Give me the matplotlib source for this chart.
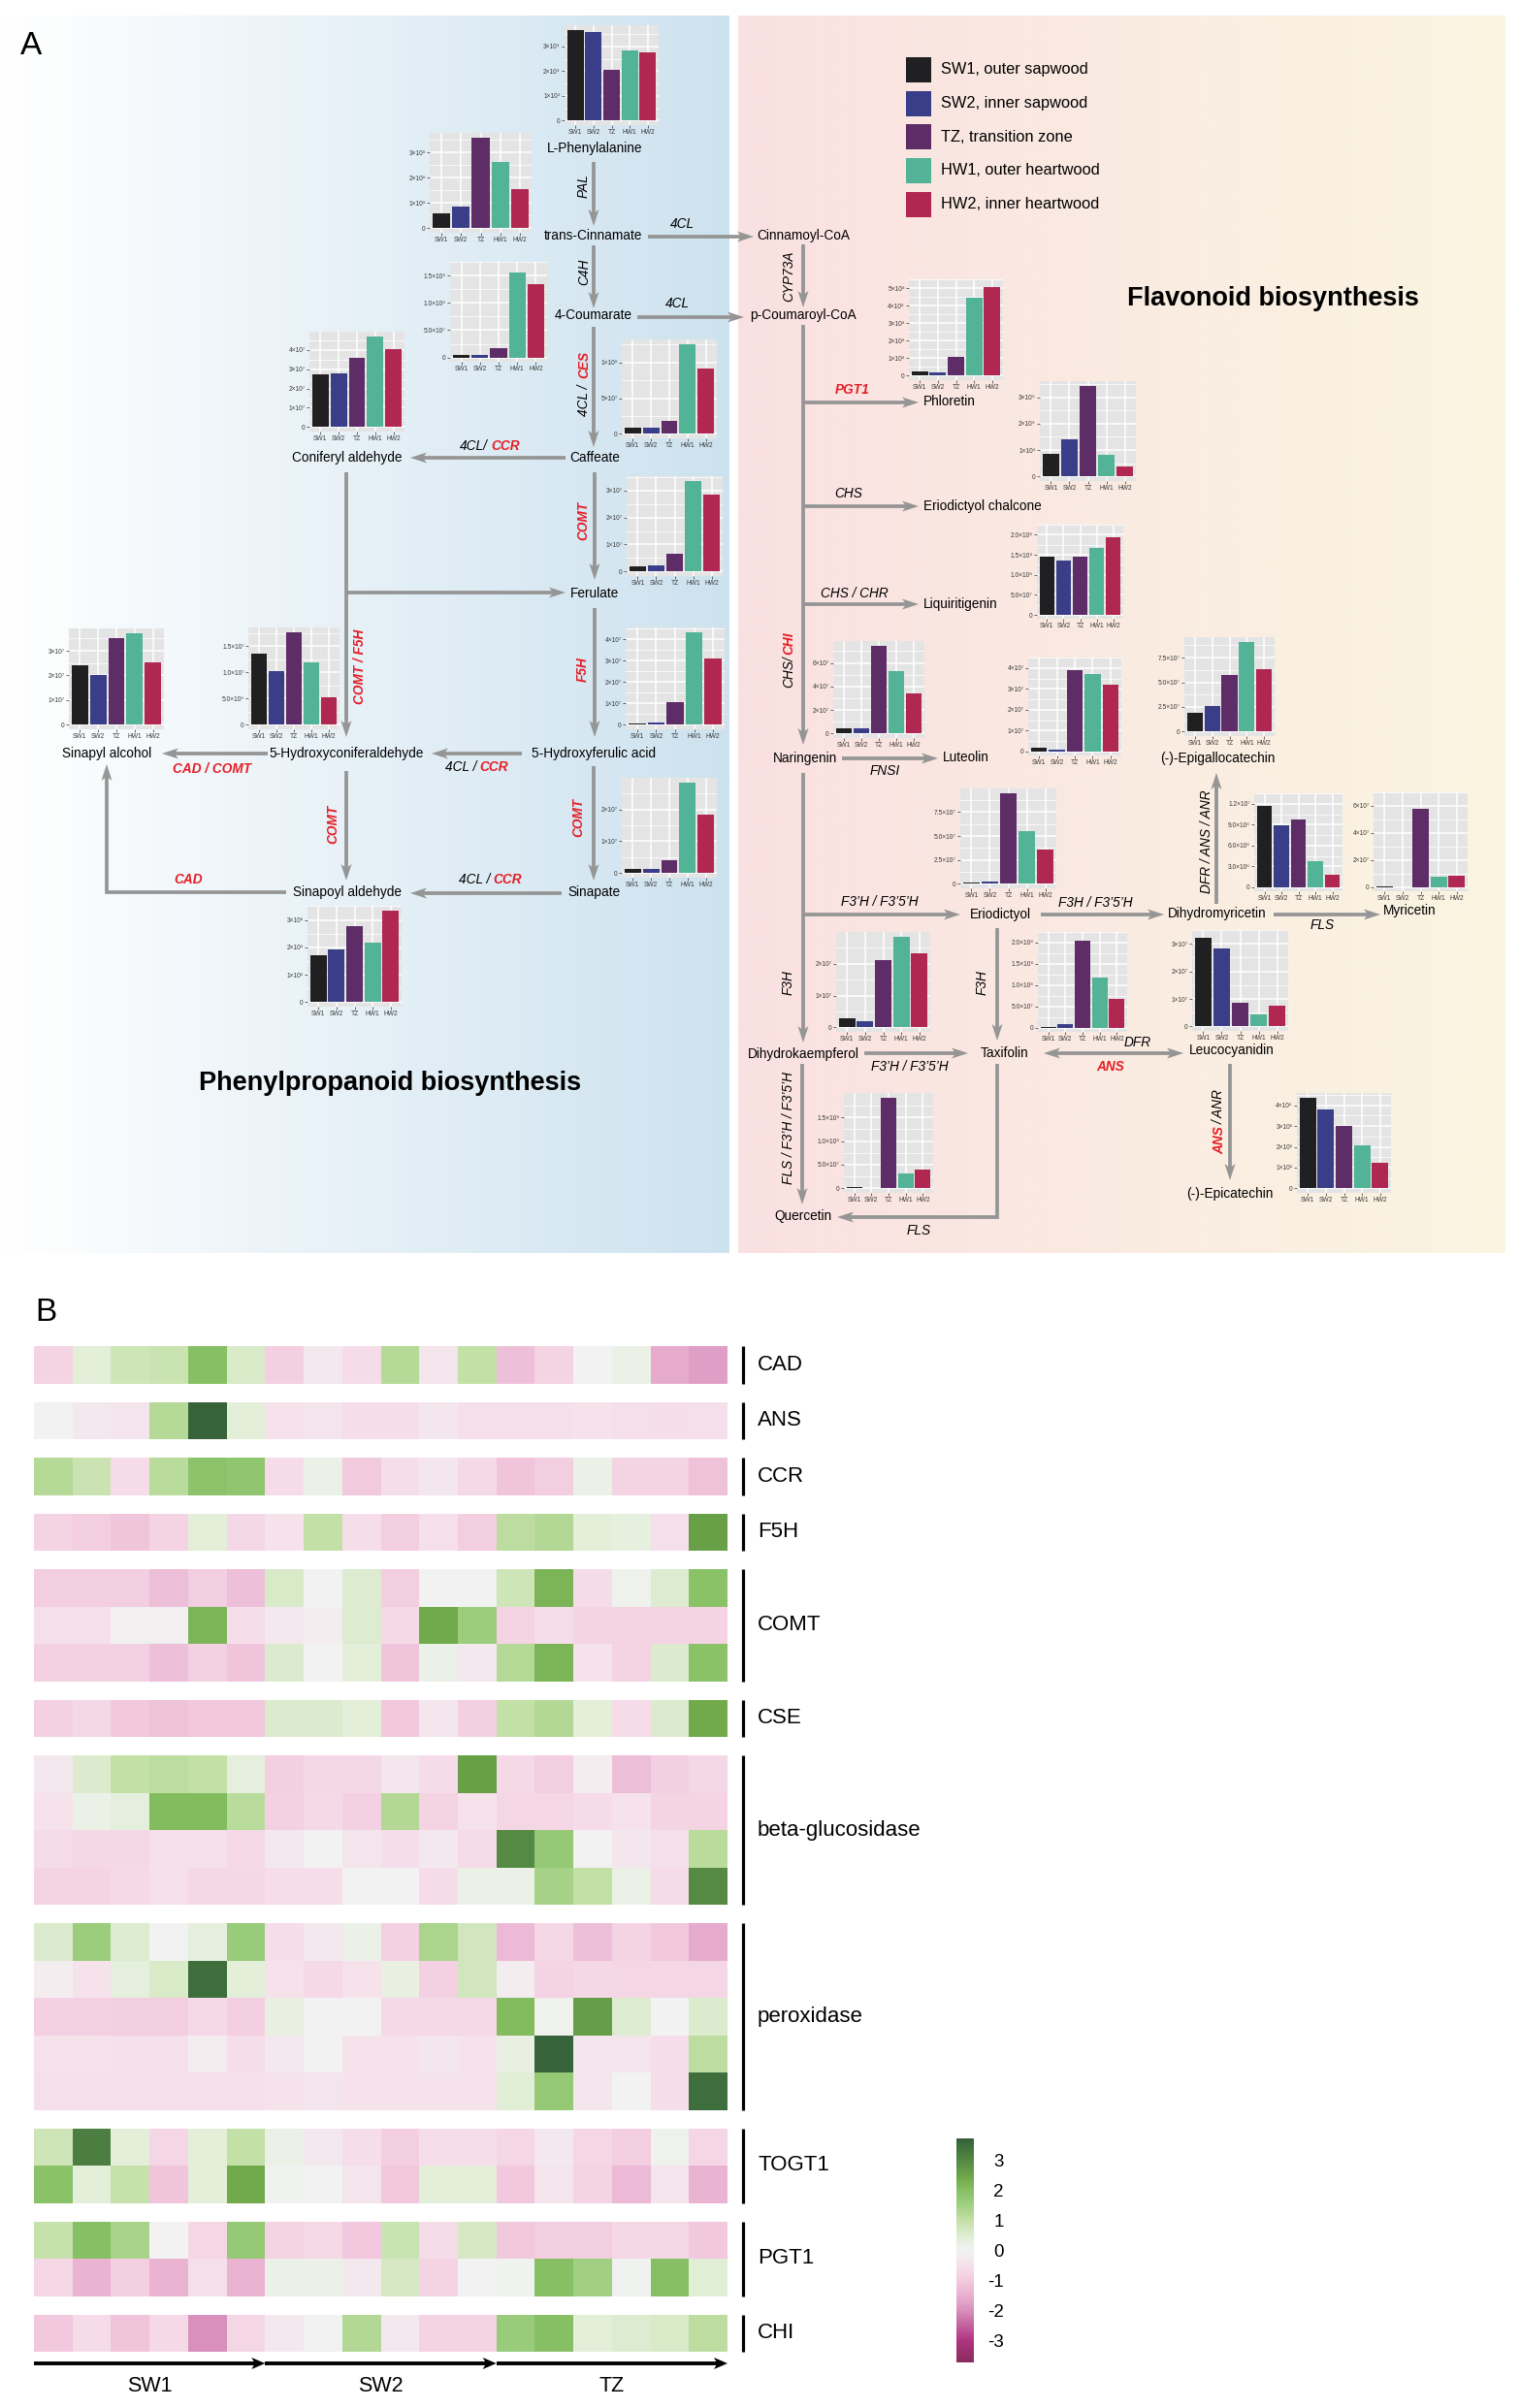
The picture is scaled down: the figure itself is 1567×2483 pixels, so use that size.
import numpy as np
import matplotlib
matplotlib.use('Agg')
import matplotlib.pyplot as plt
from matplotlib.colors import LinearSegmentedColormap, Normalize, to_rgb
from matplotlib.patches import Rectangle, Polygon
import matplotlib.colorbar as mcolorbar

W, H, DPI = 1567, 2483, 100
plt.rcParams['font.family'] = ['Liberation Sans', 'DejaVu Sans']

# ------------------------------------------------------------------ data
groups = ['SW1', 'SW2', 'TZ', 'HW1', 'HW2']
group_labels = ['SW1, outer sapwood', 'SW2, inner sapwood', 'TZ, transition zone',
                'HW1, outer heartwood', 'HW2, inner heartwood']
group_colors = ['#201F22', '#3A3E88', '#5E2C67', '#52B396', '#B02852']

compounds = ['L-Phenylalanine', 'trans-Cinnamate', '4-Coumarate', 'Coniferyl aldehyde',
             'Caffeate', 'Ferulate', '5-Hydroxyferulic acid', 'Sinapate', 'Sinapoyl aldehyde',
             'Sinapyl alcohol', '5-Hydroxyconiferaldehyde', 'Phloretin', 'Eriodictyol chalcone',
             'Liquiritigenin', 'Naringenin', 'Luteolin', '(-)-Epigallocatechin', 'Eriodictyol',
             'Dihydromyricetin', 'Myricetin', 'Dihydrokaempferol', 'Taxifolin', 'Leucocyanidin',
             '(-)-Epicatechin', 'Quercetin']

compound_values = [
    [3.68e9, 3.60e9, 2.07e9, 2.86e9, 2.78e9],
    [0.59e8, 0.86e8, 3.59e8, 2.63e8, 1.55e8],
    [0.055e8, 0.055e8, 0.17e8, 1.555e8, 1.346e8],
    [2.72e7, 2.77e7, 3.57e7, 4.72e7, 4.07e7],
    [0.08e8, 0.08e8, 0.18e8, 1.26e8, 0.91e8],
    [0.18e7, 0.23e7, 0.64e7, 3.36e7, 2.86e7],
    [0.06e7, 0.12e7, 1.04e7, 4.34e7, 3.08e7],
    [0.13e7, 0.13e7, 0.42e7, 2.85e7, 1.85e7],
    [1.70e6, 1.92e6, 2.77e6, 2.17e6, 3.35e6],
    [2.41e7, 2.01e7, 3.52e7, 3.72e7, 2.53e7],
    [1.35e7, 1.02e7, 1.77e7, 1.19e7, 0.52e7],
    [0.25e8, 0.18e8, 1.06e8, 4.45e8, 5.03e8],
    [0.86e9, 1.41e9, 3.44e9, 0.81e9, 0.37e9],
    [1.46e8, 1.35e8, 1.46e8, 1.66e8, 1.93e8],
    [0.41e7, 0.41e7, 7.48e7, 5.34e7, 3.45e7],
    [0.16e7, 0.10e7, 3.91e7, 3.70e7, 3.19e7],
    [1.88e7, 2.56e7, 5.78e7, 9.12e7, 6.36e7],
    [0.10e7, 0.20e7, 9.50e7, 5.50e7, 3.60e7],
    [11.75e6, 8.94e6, 9.70e6, 3.70e6, 1.79e6],
    [0.08e7, 0.03e7, 5.80e7, 0.76e7, 0.82e7],
    [0.29e7, 0.19e7, 2.12e7, 2.86e7, 2.34e7],
    [0.01e8, 0.08e8, 2.05e8, 1.18e8, 0.68e8],
    [3.23e7, 2.82e7, 0.85e7, 0.45e7, 0.75e7],
    [4.38e6, 3.81e6, 3.00e6, 2.08e6, 1.23e6],
    [0.02e8, 0.01e8, 1.92e8, 0.32e8, 0.39e8],
]

compound_ticks = [
    [0, 1e9, 2e9, 3e9],
    [0, 1e8, 2e8, 3e8],
    [0, 0.5e8, 1.0e8, 1.5e8],
    [0, 1e7, 2e7, 3e7, 4e7],
    [0, 0.5e8, 1e8],
    [0, 1e7, 2e7, 3e7],
    [0, 1e7, 2e7, 3e7, 4e7],
    [0, 1e7, 2e7],
    [0, 1e6, 2e6, 3e6],
    [0, 1e7, 2e7, 3e7],
    [0, 0.5e7, 1.0e7, 1.5e7],
    [0, 1e8, 2e8, 3e8, 4e8, 5e8],
    [0, 1e9, 2e9, 3e9],
    [0, 0.5e8, 1.0e8, 1.5e8, 2.0e8],
    [0, 2e7, 4e7, 6e7],
    [0, 1e7, 2e7, 3e7, 4e7],
    [0, 2.5e7, 5.0e7, 7.5e7],
    [0, 2.5e7, 5.0e7, 7.5e7],
    [0, 3e6, 6e6, 9e6, 12e6],
    [0, 2e7, 4e7, 6e7],
    [0, 1e7, 2e7],
    [0, 0.5e8, 1.0e8, 1.5e8, 2.0e8],
    [0, 1e7, 2e7, 3e7],
    [0, 1e6, 2e6, 3e6, 4e6],
    [0, 0.5e8, 1.0e8, 1.5e8],
]

compound_ticklabels = [
    ['0', '1×10⁹', '2×10⁹', '3×10⁹'],
    ['0', '1×10⁸', '2×10⁸', '3×10⁸'],
    ['0', '5.0×10⁷', '1.0×10⁸', '1.5×10⁸'],
    ['0', '1×10⁷', '2×10⁷', '3×10⁷', '4×10⁷'],
    ['0', '5×10⁷', '1×10⁸'],
    ['0', '1×10⁷', '2×10⁷', '3×10⁷'],
    ['0', '1×10⁷', '2×10⁷', '3×10⁷', '4×10⁷'],
    ['0', '1×10⁷', '2×10⁷'],
    ['0', '1×10⁶', '2×10⁶', '3×10⁶'],
    ['0', '1×10⁷', '2×10⁷', '3×10⁷'],
    ['0', '5.0×10⁶', '1.0×10⁷', '1.5×10⁷'],
    ['0', '1×10⁸', '2×10⁸', '3×10⁸', '4×10⁸', '5×10⁸'],
    ['0', '1×10⁹', '2×10⁹', '3×10⁹'],
    ['0', '5.0×10⁷', '1.0×10⁸', '1.5×10⁸', '2.0×10⁸'],
    ['0', '2×10⁷', '4×10⁷', '6×10⁷'],
    ['0', '1×10⁷', '2×10⁷', '3×10⁷', '4×10⁷'],
    ['0', '2.5×10⁷', '5.0×10⁷', '7.5×10⁷'],
    ['0', '2.5×10⁷', '5.0×10⁷', '7.5×10⁷'],
    ['0', '3.0×10⁶', '6.0×10⁶', '9.0×10⁶', '1.2×10⁷'],
    ['0', '2×10⁷', '4×10⁷', '6×10⁷'],
    ['0', '1×10⁷', '2×10⁷'],
    ['0', '5.0×10⁷', '1.0×10⁸', '1.5×10⁸', '2.0×10⁸'],
    ['0', '1×10⁷', '2×10⁷', '3×10⁷'],
    ['0', '1×10⁶', '2×10⁶', '3×10⁶', '4×10⁶'],
    ['0', '5.0×10⁷', '1.0×10⁸', '1.5×10⁸'],
]

# heatmap (z-scores), 18 columns: SW1 x6, SW2 x6, TZ x6
stages = ['SW1', 'SW2', 'TZ']
CAD_rows = [[-0.8, 0.4, 0.8, 0.9, 2.0, 0.6, -0.9, -0.3, -0.6, 1.2, -0.4, 1.0, -1.2, -0.8, 0.0, 0.2, -1.6, -1.8]]
ANS_rows = [[0.0, -0.3, -0.4, 1.2, 3.7, 0.4, -0.45, -0.4, -0.55, -0.55, -0.35, -0.5, -0.5, -0.5, -0.45, -0.5, -0.55, -0.5]]
CCR_rows = [[1.2, 0.85, -0.6, 1.15, 1.9, 1.8, -0.6, 0.2, -1.0, -0.55, -0.35, -0.65, -1.1, -0.95, 0.2, -0.8, -0.8, -1.15]]
F5H_rows = [[-0.8, -0.95, -1.1, -0.8, 0.4, -0.7, -0.45, 1.0, -0.55, -0.95, -0.5, -0.95, 1.1, 1.25, 0.4, 0.3, -0.5, 2.6]]
COMT_rows = [
    [-0.95, -0.95, -0.95, -1.25, -0.95, -1.2, 0.6, 0.0, 0.5, -0.95, 0.0, 0.0, 0.8, 2.2, -0.6, 0.1, 0.5, 1.95],
    [-0.5, -0.5, -0.1, -0.1, 2.2, -0.55, -0.3, -0.15, 0.5, -0.65, 2.4, 1.6, -0.8, -0.55, -0.8, -0.8, -0.8, -0.8],
    [-0.85, -0.85, -0.85, -1.2, -0.85, -1.1, 0.55, 0.0, 0.4, -1.1, 0.2, -0.3, 1.2, 2.2, -0.45, -0.8, 0.55, 1.95],
]
CSE_rows = [[-0.85, -0.7, -1.05, -1.15, -1.05, -1.05, 0.55, 0.55, 0.4, -1.05, -0.35, -0.9, 1.0, 1.25, 0.4, -0.6, 0.55, 2.4]]
BGLU_rows = [
    [-0.3, 0.55, 1.0, 1.1, 1.0, 0.35, -0.9, -0.7, -0.7, -0.35, -0.6, 2.6, -0.65, -0.95, -0.15, -1.25, -0.9, -0.7],
    [-0.45, 0.15, 0.35, 2.1, 2.1, 1.15, -0.85, -0.65, -0.85, 1.25, -0.8, -0.45, -0.75, -0.75, -0.6, -0.45, -0.8, -0.8],
    [-0.6, -0.7, -0.7, -0.5, -0.5, -0.65, -0.3, 0.0, -0.4, -0.55, -0.3, -0.6, 3.0, 1.7, 0.0, -0.35, -0.5, 1.15],
    [-0.8, -0.8, -0.65, -0.5, -0.7, -0.7, -0.55, -0.55, 0.0, 0.0, -0.6, 0.2, 0.2, 1.45, 1.0, 0.2, -0.6, 3.0],
]
POX_rows = [
    [0.55, 1.6, 0.5, 0.0, 0.35, 1.65, -0.55, -0.3, 0.15, -0.85, 1.35, 0.75, -1.3, -0.7, -1.2, -0.8, -1.05, -1.6],
    [-0.15, -0.45, 0.35, 0.6, 3.5, 0.4, -0.45, -0.65, -0.45, 0.25, -0.85, 0.75, -0.15, -0.8, -0.7, -0.75, -0.75, -0.75],
    [-0.85, -0.85, -0.95, -0.95, -0.65, -0.95, 0.25, 0.0, 0.0, -0.65, -0.65, -0.65, 2.1, 0.1, 2.65, 0.5, 0.0, 0.55],
    [-0.45, -0.45, -0.5, -0.5, -0.15, -0.55, -0.3, 0.0, -0.45, -0.45, -0.35, -0.45, 0.25, 3.7, -0.35, -0.4, -0.55, 1.1],
    [-0.5, -0.5, -0.5, -0.5, -0.5, -0.5, -0.45, -0.4, -0.45, -0.45, -0.45, -0.45, 0.45, 1.7, -0.35, 0.0, -0.55, 3.5],
]
TOGT1_rows = [
    [0.8, 3.2, 0.4, -0.75, 0.4, 1.0, 0.2, -0.3, -0.55, -0.9, -0.55, -0.55, -0.75, -0.3, -0.75, -0.95, 0.1, -0.75],
    [1.95, 0.4, 0.95, -1.1, 0.4, 2.4, 0.05, 0.0, -0.4, -1.05, 0.4, 0.4, -1.05, -0.4, -0.8, -1.3, -0.4, -1.45],
]
PGT1_rows = [
    [0.95, 2.0, 1.4, 0.0, -0.75, 1.7, -0.8, -0.65, -1.05, 0.9, -0.6, 0.65, -1.05, -0.95, -0.95, -0.7, -0.7, -1.05],
    [-0.75, -1.45, -0.9, -1.45, -0.5, -1.45, 0.15, 0.15, -0.3, 0.65, -0.8, 0.0, 0.05, 2.0, 1.5, 0.05, 2.0, 0.45],
]
CHI_rows = [[-1.05, -0.6, -1.1, -0.65, -2.0, -0.75, -0.3, 0.0, 1.25, -0.3, -0.8, -0.8, 1.65, 2.0, 0.4, 0.5, 0.6, 1.1]]

hm_genes = ['CAD', 'ANS', 'CCR', 'F5H', 'COMT', 'CSE', 'beta-glucosidase', 'peroxidase',
            'TOGT1', 'PGT1', 'CHI']
hm_blocks = [CAD_rows, ANS_rows, CCR_rows, F5H_rows, COMT_rows, CSE_rows, BGLU_rows,
             POX_rows, TOGT1_rows, PGT1_rows, CHI_rows]
cbar_ticks = [-3, -2, -1, 0, 1, 2, 3]

# ------------------------------------------------------------------ layout / style
GRAY = '#959595'
RED = '#E41E26'
LW = 2.7
FS = 9.8

fig = plt.figure(figsize=(W / DPI, H / DPI), dpi=DPI)
ax0 = fig.add_axes([0, 0, 1, 1])


def hgrad(x0, x1, y0, y1, c0, c1):
    a = np.array(to_rgb(c0)); b = np.array(to_rgb(c1))
    t = np.linspace(0, 1, 256)[:, None]
    img = (a[None, :] * (1 - t) + b[None, :] * t)[None, :, :]
    ax0.imshow(img, extent=(x0, x1, y1, y0), aspect='auto', interpolation='bilinear', zorder=0)


hgrad(0, 752, 16, 1292, '#FFFFFF', '#CDE2EF')
hgrad(761, 1552, 16, 1292, '#FAE1E1', '#FAF5E1')
ax0.set_xlim(0, W)
ax0.set_ylim(H, 0)
ax0.axis('off')


def head(tip, d, L=17.0, hw=5.5, color=GRAY):
    d = np.asarray(d, float); d = d / np.hypot(*d)
    n = np.array([-d[1], d[0]])
    tip = np.asarray(tip, float)
    back = tip - L * d
    notch = tip - 0.75 * L * d
    ax0.add_patch(Polygon([tip, back + hw * n, notch, back - hw * n], closed=True,
                          fc=color, ec='none', zorder=3))


def arrow(pts, both=False, L=17.0, hw=5.5, color=GRAY, lw=LW):
    pts = np.array(pts, float)
    line = pts.copy()
    d = pts[-1] - pts[-2]; d = d / np.hypot(*d)
    line[-1] = pts[-1] - 0.7 * L * d
    if both:
        d0 = pts[0] - pts[1]; d0 = d0 / np.hypot(*d0)
        line[0] = pts[0] - 0.7 * L * d0
        head(pts[0], d0, L, hw, color)
    ax0.plot(line[:, 0], line[:, 1], color=color, lw=lw, solid_capstyle='butt',
             solid_joinstyle='miter', zorder=2)
    head(pts[-1], d, L, hw, color)


def node(x, y, s, ha='center'):
    ax0.text(x, y, s, ha=ha, va='center', fontsize=FS, zorder=4)


def enz(x, y, s, red=False, rot=0, ha='center'):
    ax0.text(x, y, s, ha=ha, va='center', fontsize=FS, style='italic',
             weight='bold' if red else 'normal', color=RED if red else 'black',
             rotation=rot, zorder=4)


# ---- arrows: phenylpropanoid
arrow([(612, 167), (612, 233)])
arrow([(668, 244), (777, 244)])
arrow([(612, 253), (612, 318)])
arrow([(657, 327), (767, 327)])
arrow([(828, 252), (828, 317)])
arrow([(612, 337), (612, 461)])
arrow([(583, 472), (423, 472)])
arrow([(613, 487), (613, 598)])
arrow([(357, 611), (583, 611)])
arrow([(357, 487), (357, 760)])
arrow([(613, 627), (613, 760)])
arrow([(538, 777), (445, 777)])
arrow([(276, 777), (167, 777)])
arrow([(357, 795), (357, 908)])
arrow([(612, 790), (612, 908)])
arrow([(579, 921), (423, 921)])
arrow([(295, 920), (110, 920), (110, 788)])
# ---- arrows: flavonoid
arrow([(828, 335), (828, 768)])
arrow([(828, 415), (947, 415)])
arrow([(828, 522), (947, 522)])
arrow([(828, 623), (947, 623)])
arrow([(868, 782), (967, 782)])
arrow([(828, 797), (828, 1075)])
arrow([(828, 943), (990, 943)])
arrow([(891, 1086), (998, 1086)])
arrow([(1028, 957), (1028, 1073)])
arrow([(827, 1097), (827, 1242)])
arrow([(1028, 1097), (1028, 1255), (863, 1255)])
arrow([(1073, 943), (1200, 943)])
arrow([(1313, 943), (1423, 943)])
arrow([(1254, 932), (1254, 797)])
arrow([(1076, 1086), (1220, 1086)], both=True)
arrow([(1268, 1097), (1268, 1217)])

# ---- node labels
node(613, 153, 'L-Phenylalanine')
node(612, 243, 'trans-Cinnamate')
node(828, 243, 'Cinnamoyl-CoA')
node(612, 325, '4-Coumarate')
node(828, 325, 'p-Coumaroyl-CoA')
node(952, 414, 'Phloretin', ha='left')
node(952, 522, 'Eriodictyol chalcone', ha='left')
node(952, 623, 'Liquiritigenin', ha='left')
node(613, 472, 'Caffeate')
node(358, 472, 'Coniferyl aldehyde')
node(613, 612, 'Ferulate')
node(612, 777, '5-Hydroxyferulic acid')
node(357, 777, '5-Hydroxyconiferaldehyde')
node(110, 777, 'Sinapyl alcohol')
node(358, 920, 'Sinapoyl aldehyde')
node(613, 920, 'Sinapate')
node(830, 782, 'Naringenin')
node(972, 781, 'Luteolin', ha='left')
node(1031, 943, 'Eriodictyol')
node(828, 1087, 'Dihydrokaempferol')
node(1036, 1086, 'Taxifolin')
node(828, 1254, 'Quercetin')
node(1255, 942, 'Dihydromyricetin')
node(1453, 939, 'Myricetin')
node(1255, 782, '(-)-Epigallocatechin')
node(1270, 1083, 'Leucocyanidin')
node(1268, 1231, '(-)-Epicatechin')

# ---- enzyme labels
enz(602, 192, 'PAL', rot=90)
enz(703, 231, '4CL')
enz(602, 280, 'C4H', rot=90)
enz(698, 313, '4CL')
enz(813, 285, 'CYP73A', rot=90)
enz(602, 413, '4CL /', rot=90)
enz(602, 376, 'CES', red=True, rot=90)
enz(503, 460, '4CL/', ha='right')
enz(506, 460, 'CCR', red=True, ha='left')
enz(601, 537, 'COMT', red=True, rot=90)
enz(371, 687, 'COMT / F5H', red=True, rot=90)
enz(601, 690, 'F5H', red=True, rot=90)
enz(491, 791, '4CL /', ha='right')
enz(494, 791, 'CCR', red=True, ha='left')
enz(219, 793, 'CAD / COMT', red=True)
enz(343, 850, 'COMT', red=True, rot=90)
enz(596, 843, 'COMT', red=True, rot=90)
enz(505, 907, '4CL /', ha='right')
enz(508, 907, 'CCR', red=True, ha='left')
enz(194, 907, 'CAD', red=True)
enz(879, 402, 'PGT1', red=True)
enz(875, 509, 'CHS')
enz(881, 612, 'CHS / CHR')
enz(813, 693, 'CHS/', rot=90)
enz(813, 663, 'CHI', red=True, rot=90)
enz(912, 795, 'FNSI')
enz(813, 1013, 'F3H', rot=90)
enz(907, 930, 'F3’H / F3’5’H')
enz(938, 1100, 'F3’H / F3’5’H')
enz(1013, 1013, 'F3H', rot=90)
enz(813, 1163, 'FLS / F3’H / F3’5’H', rot=90)
enz(947, 1269, 'FLS')
enz(1129, 931, 'F3H / F3’5’H')
enz(1363, 954, 'FLS')
enz(1244, 868, 'DFR / ANS / ANR', rot=90)
enz(1173, 1075, 'DFR')
enz(1145, 1100, 'ANS', red=True)
enz(1257, 1176, 'ANS', red=True, rot=90)
enz(1257, 1141, '/ ANR', rot=90)

# ---- titles & panel letters
ax0.text(402, 1117, 'Phenylpropanoid biosynthesis', fontsize=19.5, weight='bold',
         ha='center', va='center')
ax0.text(1312, 308, 'Flavonoid biosynthesis', fontsize=19.5, weight='bold',
         ha='center', va='center')
ax0.text(32, 47, 'A', fontsize=24, ha='center', va='center')
ax0.text(47, 1353, 'B', fontsize=24, ha='center', va='center')

# ---- legend
leg_y = [71.5, 106.5, 141, 175.5, 210.5]
for yy, lab, col in zip(leg_y, group_labels, group_colors):
    ax0.add_patch(Rectangle((934, yy - 13), 26, 26, fc=col, ec='none', zorder=3))
    ax0.text(970, yy, lab, fontsize=11.8, ha='left', va='center')

# ---- mini bar charts (gray panel rect in pixels: x0, y0, x1, y1)
chart_rects = [
    (582, 26, 679, 129), (443, 137, 548, 240), (464, 270, 564, 373), (319, 342, 417, 445),
    (641, 350, 739, 452), (646, 491, 745, 594), (645, 647, 747, 752), (641, 802, 739, 905),
    (317, 934, 414, 1038), (71, 648, 169, 752), (256, 647, 350, 752), (937, 288, 1034, 392),
    (1072, 393, 1171, 496), (1069, 541, 1158, 638), (859, 661, 953, 761), (1060, 678, 1156, 779),
    (1221, 657, 1314, 759), (990, 813, 1089, 916), (1293, 818, 1384, 919), (1416, 817, 1513, 919),
    (862, 961, 959, 1064), (1070, 961, 1162, 1064), (1229, 959, 1328, 1063),
    (1337, 1127, 1434, 1230), (870, 1127, 962, 1230),
]


def mini(rect, vals, ticks, labels):
    x0, y0, x1, y1 = rect
    ax = fig.add_axes([x0 / W, 1 - y1 / H, (x1 - x0) / W, (y1 - y0) / H])
    ax.set_facecolor('#E4E4E4')
    xs = np.arange(1, 6)
    ax.bar(xs, vals, width=0.9, color=group_colors, zorder=3)
    ymax = max(vals)
    ax.set_xlim(0.4, 5.6)
    ax.set_ylim(-0.05 * ymax, 1.05 * ymax)
    ax.set_xticks(xs)
    ax.set_xticklabels(groups)
    ax.set_yticks(ticks)
    ax.set_yticklabels(labels)
    step = ticks[1] - ticks[0]
    ax.set_yticks([t + step / 2 for t in ticks], minor=True)
    ax.tick_params(which='minor', length=0, labelleft=False)
    ax.tick_params(which='major', length=2, width=0.5, color='#333333', labelsize=4.8,
                   labelcolor='#3A3A3A', pad=1)
    ax.set_axisbelow(True)
    ax.grid(which='major', color='white', lw=1.1)
    ax.grid(which='minor', axis='y', color='white', lw=0.55)
    for s in ax.spines.values():
        s.set_visible(False)


for rect, vals, tk, tl in zip(chart_rects, compound_values, compound_ticks, compound_ticklabels):
    mini(rect, vals, tk, tl)

# ------------------------------------------------------------------ heatmap (panel B)
cmap_nodes = [(-3.74, '#8B2B5F'), (-3.0, '#B03582'), (-2.0, '#D991BE'), (-1.6, '#E6ABCC'),
              (-1.2, '#EEC0D9'), (-0.95, '#F3CDE0'), (-0.6, '#F6DCE8'), (-0.3, '#F3E8EE'),
              (0.0, '#F2F2F2'), (0.4, '#E3EFD9'), (1.0, '#C4E0A8'), (1.25, '#B3D895'),
              (1.6, '#9BCD7D'), (2.0, '#88C065'), (2.4, '#72AB4B'), (3.0, '#548A43'),
              (3.74, '#35613A')]
vmin, vmax = -3.74, 3.74
cmap = LinearSegmentedColormap.from_list(
    'pg', [((v - vmin) / (vmax - vmin), c) for v, c in cmap_nodes])
norm = Normalize(vmin, vmax)

hx0, hx1 = 35, 750
xedges = np.linspace(hx0, hx1, 19)
row_h, gap = 38.5, 19.0
ytop = 1388.0
for gene, rows in zip(hm_genes, hm_blocks):
    nrow = len(rows)
    yedges = ytop + row_h * np.arange(nrow + 1)
    ax0.pcolormesh(xedges, yedges, np.array(rows), cmap=cmap, norm=norm,
                   shading='flat', edgecolors='none', antialiased=False, zorder=2)
    ax0.plot([766, 766], [ytop, yedges[-1]], color='black', lw=2.3, solid_capstyle='butt')
    ax0.text(781, (ytop + yedges[-1]) / 2, gene, fontsize=16, ha='left', va='center')
    ytop = yedges[-1] + gap

# stage arrows under heatmap
seg = np.linspace(hx0, hx1, 4)
for i, st in enumerate(stages):
    arrow([(seg[i], 2437), (seg[i + 1], 2437)], L=14, hw=6, color='black', lw=2.8)
    ax0.text((seg[i] + seg[i + 1]) / 2, 2461, st, fontsize=15.5, ha='center', va='center')

# colorbar
cax = fig.add_axes([986 / W, 1 - 2436 / H, 18 / W, 231 / H])
cb = mcolorbar.ColorbarBase(cax, cmap=cmap, norm=norm, orientation='vertical')
cb.outline.set_visible(False)
cb.set_ticks(cbar_ticks)
cb.set_ticklabels([str(t) for t in cbar_ticks])
cax.tick_params(length=0, labelsize=13.5, pad=22)
for lab in cax.get_yticklabels():
    lab.set_horizontalalignment('right')

fig.savefig('out.png', dpi=DPI)
